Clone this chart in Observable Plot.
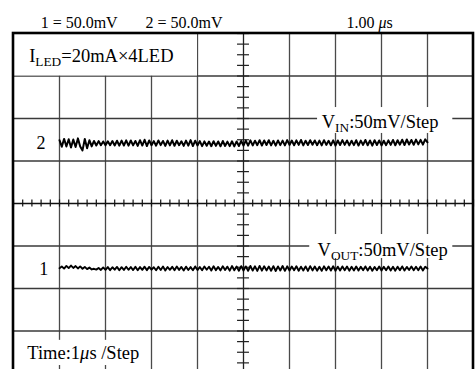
<!DOCTYPE html>
<html>
<head>
<meta charset="utf-8">
<script src="https://cdn.jsdelivr.net/npm/d3@7"></script>
<script src="https://cdn.jsdelivr.net/npm/@observablehq/plot@0.6"></script>
<style>
  html, body { margin: 0; padding: 0; background: white; overflow: hidden; }
  #chart svg { display: block; }
</style>
</head>
<body>
<div id="chart"></div>
<script>
// ---- Data ----
// Horizontal: 1 µs / division (10 divisions); vertical: 50 mV / division (8 divisions)
const sampleStart = 1.0;   // µs, first trace sample
const sampleStep = 0.05;   // µs between samples

// Channel 2 (V_IN, AC ripple), mV on screen
const ch2 = [74.5, 66.8, 76.0, 67.0, 75.6, 65.8, 75.2, 66.5, 76.6, 67.0,
 62.5, 75.8, 65.0, 74.5, 67.2, 73.6, 68.2, 73.4, 68.6, 73.0,
 68.4, 73.2, 68.6, 73.5, 68.3, 73.8, 68.0, 74.0, 68.2, 74.3,
 68.0, 74.1, 68.4, 73.6, 67.8, 74.5, 68.2, 75.0, 67.6, 74.2,
 68.5, 73.4, 68.0, 74.1, 68.7, 73.6, 67.7, 74.0, 68.3, 74.4,
 67.9, 73.8, 68.6, 73.2, 67.8, 74.0, 68.1, 74.6, 67.6, 73.9,
 68.3, 73.4, 67.5, 73.1, 67.9, 72.9, 67.4, 73.3, 67.8, 73.0,
 67.3, 73.5, 67.7, 72.8, 67.5, 73.2, 67.2, 73.0, 67.6, 73.6,
 68.1, 74.0, 68.0, 74.3, 68.3, 73.9, 68.6, 74.5, 68.2, 74.1,
 68.8, 74.4, 68.4, 73.8, 68.1, 74.2, 68.7, 74.0, 68.3, 74.6,
 68.9, 74.1, 68.5, 74.3, 69.0, 74.7, 68.4, 73.9, 68.8, 74.4,
 69.1, 74.2, 68.6, 74.0, 68.3, 74.5, 68.9, 73.8, 68.5, 74.3,
 68.1, 74.1, 68.8, 74.6, 69.0, 74.2, 68.4, 73.9, 68.7, 74.4,
 68.2, 74.0, 68.9, 74.7, 68.5, 74.1, 68.1, 74.5, 68.8, 74.2,
 68.3, 73.8, 68.6, 74.3, 69.0, 74.8, 68.5, 74.4, 69.2, 75.0,
 68.8, 75.3, 69.4, 74.7, 69.1, 75.2, 69.6, 74.9, 69.3, 75.4, 72.0];

// Channel 1 (V_OUT, AC ripple), mV on screen
const ch1 = [-76.2, -74.2, -76.6, -73.4, -76.0, -73.0, -75.8, -73.6, -76.4, -74.0,
 -76.8, -74.6, -77.2, -75.4, -77.6, -76.8, -77.8, -75.8, -78.2, -75.2,
 -78.0, -74.8, -78.4, -75.0, -77.9, -74.6, -78.5, -74.9, -78.2, -74.4,
 -78.0, -74.7, -78.3, -74.5, -78.6, -74.8, -78.1, -74.3, -78.4, -74.6,
 -77.9, -75.0, -78.5, -74.4, -78.2, -74.2, -78.7, -74.7, -78.0, -74.5,
 -78.4, -74.1, -78.1, -74.6, -78.8, -74.3, -78.2, -74.8, -78.5, -74.0,
 -78.3, -74.7, -78.6, -74.2, -78.0, -74.4, -78.9, -73.9, -78.4, -74.6,
 -78.7, -73.8, -78.2, -74.3, -79.0, -73.6, -78.6, -74.1, -79.1, -73.7,
 -78.8, -74.0, -79.2, -73.5, -78.9, -73.9, -79.3, -73.4, -79.0, -73.8,
 -78.7, -74.2, -79.1, -73.7, -79.4, -74.0, -78.8, -73.5, -79.2, -73.9,
 -78.9, -74.1, -78.6, -73.8, -79.1, -74.3, -78.8, -74.0, -79.3, -73.7,
 -78.7, -74.2, -79.0, -74.4, -79.2, -73.9, -78.6, -74.1, -78.9, -73.8,
 -79.1, -74.3, -78.8, -74.0, -78.5, -74.2, -79.0, -74.5, -78.7, -74.1,
 -78.9, -74.4, -78.4, -74.0, -78.8, -74.3, -79.1, -74.6, -78.6, -74.2,
 -78.9, -74.5, -78.5, -74.1, -78.7, -74.4, -79.0, -74.3, -78.4, -74.0,
 -78.8, -74.6, -78.3, -74.2, -78.6, -74.5, -78.5, -74.1, -78.7, -74.4, -76.6];

// Graticule
const gridX = [1, 2, 3, 4, 6, 7, 8, 9];          // µs
const gridY = [150, 100, 50, -50, -100, -150];   // mV
const minorX = d3.range(0, 10.001, 0.2);          // µs, centre-axis ticks
const minorY = d3.range(-200, 200.001, 12.5);     // mV, centre-axis ticks

// Texts: header, annotations, channel markers
const headerTexts = [
  {t: 0.59, v: 207, label: "1 = 50.0mV"},
  {t: 2.87, v: 207, label: "2 = 50.0mV"},
  {t: 7.24, v: 207, label: "1.00 *μ*s"}
];
const noteTexts = [
  {t: 0.34, v: 166, label: "I_{LED}=20mA×4LED"},
  {t: 6.70, v: 89, label: "V_{IN}:50mV/Step"},
  {t: 6.61, v: -61.2, label: "V_{OUT}:50mV/Step"},
  {t: 0.30, v: -183.5, label: "Time:1*μ*s /Step"}
];
const channelMarks = [
  {t: 0.60, v: 64.7, label: "2"},
  {t: 0.66, v: -84.7, label: "1"}
];
const noteBoxes = [
  {t1: 0, t2: 4, v1: 200, v2: 150},
  {t1: 6.61, t2: 9.55, v1: 112.9, v2: 82.4},
  {t1: 6.44, t2: 9.55, v1: -36.5, v2: -64.7},
  {t1: 0, t2: 2.87, v1: -161, v2: -190.6}
];

// ---- Build ----
const trace2 = ch2.map((v, i) => ({t: sampleStart + i * sampleStep, v}));
const trace1 = ch1.map((v, i) => ({t: sampleStart + i * sampleStep, v}));

const font = "Liberation Serif, Times New Roman, serif";

const plot = Plot.plot({
  width: 475,
  height: 369,
  margin: 0,
  x: {domain: [0, 10], range: [13, 473], axis: null},
  y: {domain: [-200, 200], range: [373, 33], axis: null},
  style: {background: "white", fontFamily: font, color: "black"},
  marks: [
    Plot.ruleX(gridX, {x: d => d, y1: -200, y2: 200, stroke: "#4a4a4a", strokeWidth: 1.3}),
    Plot.ruleY(gridY, {y: d => d, x1: 0, x2: 10, stroke: "#3a3a3a", strokeWidth: 1.3}),
    Plot.ruleX([5], {x: d => d, y1: -200, y2: 200, stroke: "#222", strokeWidth: 1.3}),
    Plot.ruleY([0], {y: d => d, x1: 0, x2: 10, stroke: "#111", strokeWidth: 1.4}),
    Plot.ruleX(minorX, {x: d => d, y1: -4.2, y2: 4.2, stroke: "#111", strokeWidth: 1.2}),
    Plot.ruleY(minorY, {y: d => d, x1: 4.87, x2: 5.13, stroke: "#222", strokeWidth: 1.2}),
    Plot.rect(noteBoxes, {x1: "t1", x2: "t2", y1: "v1", y2: "v2", fill: "white"}),
    Plot.rect([{}], {x1: 0, x2: 10, y1: -200, y2: 200, fill: "none", stroke: "black", strokeWidth: 2.6}),
    Plot.line(trace2, {x: "t", y: "v", stroke: "black", strokeWidth: 2}),
    Plot.line(trace1, {x: "t", y: "v", stroke: "black", strokeWidth: 1.9}),
    Plot.text(headerTexts, {x: "t", y: "v", text: "label", textAnchor: "start", lineAnchor: "bottom", fontSize: 16, fontFamily: font, fill: "black"}),
    Plot.text(noteTexts, {x: "t", y: "v", text: "label", textAnchor: "start", lineAnchor: "bottom", fontSize: 18.5, fontFamily: font, fill: "black"}),
    Plot.text(channelMarks, {x: "t", y: "v", text: "label", textAnchor: "middle", lineAnchor: "bottom", fontSize: 18, fontFamily: font, fill: "black"})
  ]
});

// Rich text: _{sub} -> subscript, *x* -> italic
d3.select(plot).selectAll("text").each(function() {
  const s = this.textContent;
  if (!/_\{|\*/.test(s)) return;
  const el = d3.select(this);
  el.text(null);
  const re = /_\{([^}]*)\}|\*([^*]*)\*|([^_*]+)/g;
  let m, down = false;
  while ((m = re.exec(s))) {
    const ts = el.append("tspan");
    if (m[1] != null) {
      ts.text(m[1]).attr("font-size", "0.72em").attr("dy", "4");
      down = true;
    } else {
      if (down) { ts.attr("dy", "-4"); down = false; }
      if (m[2] != null) ts.text(m[2]).attr("font-style", "italic");
      else ts.text(m[3]);
    }
  }
});

document.getElementById("chart").appendChild(plot);
</script>
</body>
</html>
